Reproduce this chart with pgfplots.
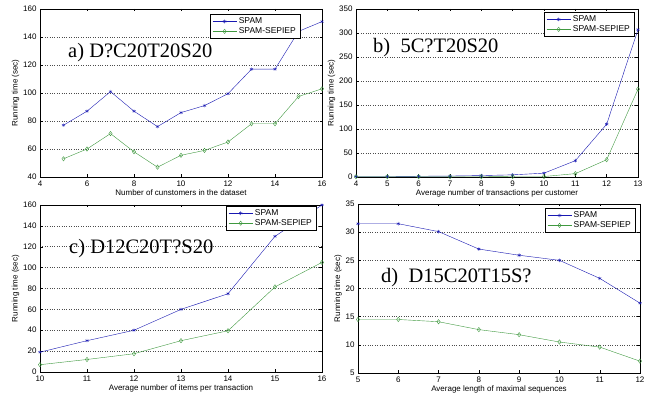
\documentclass[border=0pt]{standalone}
\usepackage{pgfplots}
\pgfplotsset{compat=1.18}
\usepackage{fontspec}
\setmainfont{Liberation Sans}
\newfontfamily\titlefont{Liberation Serif}
\definecolor{mblue}{rgb}{0.1,0.1,0.7}
\definecolor{mgreen}{rgb}{0.25,0.6,0.25}
\pgfplotsset{
  every axis/.append style={
    scale only axis, width=282pt, height=168pt,
    tick align=inside, tick style={black, thin},
    major tick length=2.5pt,
    ymajorgrids, grid style={black!70, dotted, line width=0.5pt},
    axis line style={black, thin},
    tick label style={font=\fontsize{8}{9}\selectfont},
    label style={font=\fontsize{8}{9}\selectfont},
    /pgf/number format/assume math mode=true,
    legend style={font=\fontsize{8.5}{10}\selectfont, draw=black, fill=white,
      inner xsep=2pt, inner ysep=1.5pt, row sep=-1.5pt, cells={anchor=west}},
    legend cell align=left,
    legend image code/.code={
      \draw[mark repeat=2,mark phase=2] plot coordinates {(0pt,0pt) (12pt,0pt) (24pt,0pt)};},
    xlabel style={yshift=3pt},
    ylabel style={yshift=-3pt},
  },
  spam/.style={mblue, thin, mark=asterisk, mark size=1.8pt},
  sep/.style={mgreen, thin, mark=diamond, mark size=2.2pt, mark options={fill=white}},
}
\begin{document}
\begin{tikzpicture}[x=1pt,y=1pt]
\useasboundingbox (0,0) rectangle (657,396);
% (a)
\begin{axis}[at={(40pt,219pt)}, anchor=south west,
  xmin=4, xmax=16, ymin=40, ymax=160, xtick={4,6,...,16}, ytick={40,60,...,160},
  xlabel={Number of cunstomers in the dataset}, ylabel={Running time (sec)},
  legend style={at={(0.922,0.97)}, anchor=north east}]
\addplot[spam] coordinates {(5,77) (6,87) (7,101) (8,87) (9,76) (10,86) (11,91) (12,99.5) (13,117) (14,117) (15,144) (16,151)};
\addplot[sep] coordinates {(5,53) (6,60) (7,71) (8,58) (9,47) (10,55.5) (11,59) (12,65) (13,78) (14,78) (15,97.5) (16,103)};
\legend{SPAM, SPAM-SEPIEP}
\end{axis}
% (b)
\begin{axis}[at={(356pt,219pt)}, anchor=south west,
  xmin=4, xmax=13, ymin=0, ymax=350, xtick={4,5,...,13}, ytick={0,50,...,350},
  xlabel={Average number of transactions per customer}, ylabel={Running time (sec)},
  legend style={at={(0.986,0.982)}, anchor=north east}]
\addplot[spam] coordinates {(4,1) (5,1) (6,1.5) (7,2) (8,3) (9,4.5) (10,8) (11,34) (12,110) (13,307)};
\addplot[sep] coordinates {(4,0.5) (5,0.5) (6,0.5) (7,0.5) (8,0.5) (9,1) (10,1) (11,7) (12,36) (13,183)};
\legend{SPAM, SPAM-SEPIEP}
\end{axis}
% (c)
\begin{axis}[at={(40pt,24pt)}, anchor=south west, height=167pt,
  xmin=10, xmax=16, ymin=0, ymax=160, xtick={10,11,...,16}, ytick={0,20,...,160},
  xlabel={Average number of items per transaction}, ylabel={Running time (sec)},
  legend style={at={(0.979,0.995)}, anchor=north east}]
\addplot[spam] coordinates {(10,19) (11,30) (12,40) (13,60) (14,75) (15,130) (16,160)};
\addplot[sep] coordinates {(10,7) (11,12) (12,17.5) (13,30) (14,39.5) (15,81.5) (16,105)};
\legend{SPAM, SPAM-SEPIEP}
\end{axis}
% (d)
\begin{axis}[at={(358pt,23pt)}, anchor=south west, height=169pt,
  xmin=5, xmax=12, ymin=5, ymax=35, xtick={5,6,...,12}, ytick={5,10,...,35},
  xlabel={Average length of maximal sequences}, ylabel={Running time (sec)},
  legend style={at={(0.982,0.976)}, anchor=north east}]
\addplot[spam] coordinates {(5,31.5) (6,31.5) (7,30.1) (8,27) (9,25.9) (10,25) (11,21.8) (12,17.4)};
\addplot[sep] coordinates {(5,14.5) (6,14.5) (7,14.1) (8,12.7) (9,11.8) (10,10.5) (11,9.6) (12,7.1)};
\legend{SPAM, SPAM-SEPIEP}
\end{axis}
\node[anchor=west, inner sep=0pt, font=\titlefont\fontsize{20.5}{24}\selectfont] at (68,343) {a) D?C20T20S20};
\node[anchor=west, inner sep=0pt, font=\titlefont\fontsize{20.5}{24}\selectfont] at (373,348) {b)\ \ 5C?T20S20};
\node[anchor=west, inner sep=0pt, font=\titlefont\fontsize{20.5}{24}\selectfont] at (69,147) {c) D12C20T?S20};
\node[anchor=west, inner sep=0pt, font=\titlefont\fontsize{20.5}{24}\selectfont] at (381,118) {d)\ \ D15C20T15S?};
\end{tikzpicture}
\end{document}
